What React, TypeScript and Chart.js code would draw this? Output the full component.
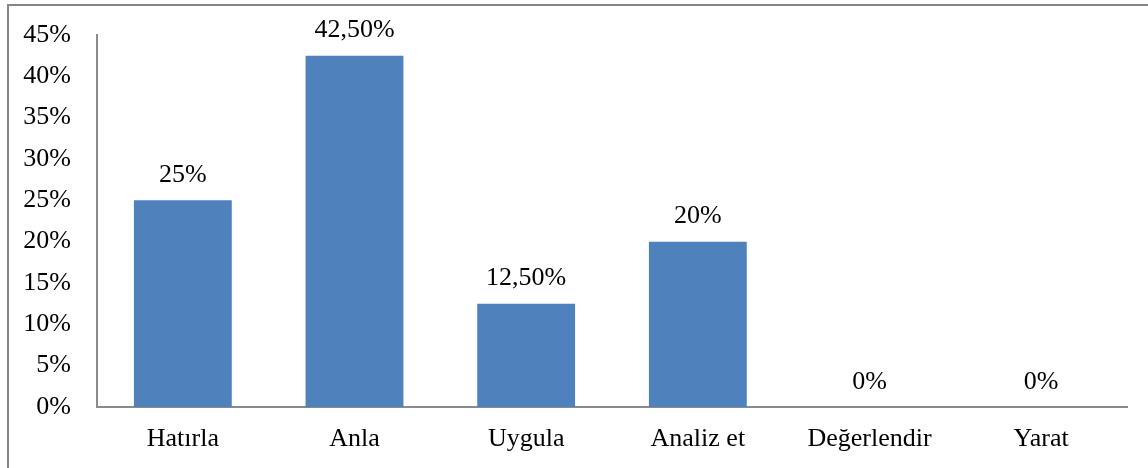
import React, { useEffect, useRef } from "react";
import { Chart, registerables } from "chart.js";

Chart.register(...registerables);

const categories = ["Hatırla", "Anla", "Uygula", "Analiz et", "Değerlendir", "Yarat"];
const values = [25, 42.5, 12.5, 20, 0, 0];
const valueLabels = ["25%", "42,50%", "12,50%", "20%", "0%", "0%"];
const yTicks = [0, 5, 10, 15, 20, 25, 30, 35, 40, 45];

const FONT = "'Liberation Serif', 'Times New Roman', serif";

const dataLabelPlugin = {
  id: "dataLabels",
  afterDatasetsDraw(chart: any) {
    const ctx = chart.ctx;
    const meta = chart.getDatasetMeta(0);
    ctx.save();
    ctx.font = `26px ${FONT}`;
    ctx.fillStyle = "#000000";
    ctx.textAlign = "center";
    ctx.textBaseline = "middle";
    meta.data.forEach((bar: any, i: number) => {
      ctx.fillText(valueLabels[i], bar.x, bar.y - 25);
    });
    ctx.restore();
  },
};

export default function App() {
  const ref = useRef<HTMLCanvasElement | null>(null);
  useEffect(() => {
    if (!ref.current) return;
    const chart = new Chart(ref.current, {
      type: "bar",
      data: {
        labels: categories,
        datasets: [
          {
            data: values,
            backgroundColor: "#4F81BD",
            borderWidth: 0,
            barPercentage: 0.57,
            categoryPercentage: 1,
          },
        ],
      },
      options: {
        animation: false,
        responsive: true,
        maintainAspectRatio: false,
        layout: { padding: { left: 0, right: 21, top: 35, bottom: 0 } },
        plugins: { legend: { display: false }, tooltip: { enabled: false } },
        scales: {
          x: {
            grid: { display: false, drawTicks: false },
            border: { display: true, color: "#8a8a8a", width: 2 },
            ticks: {
              color: "#000000",
              font: { family: FONT, size: 26 },
              padding: 17,
              maxRotation: 0,
            },
            afterFit: (scale: any) => {
              scale.height = 61;
              scale.paddingLeft = 0;
              scale.paddingRight = 0;
            },
          },
          y: {
            min: 0,
            max: 45,
            afterBuildTicks: (scale: any) => {
              scale.ticks = yTicks.map((v) => ({ value: v }));
            },
            grid: { display: false, drawTicks: false },
            border: { display: true, color: "#8a8a8a", width: 2 },
            ticks: {
              color: "#000000",
              font: { family: FONT, size: 26 },
              padding: 26,
              callback: (v: any) => `${v}%`,
            },
            afterFit: (scale: any) => {
              scale.width = 97;
              scale.paddingTop = 0;
              scale.paddingBottom = 0;
            },
          },
        },
      },
      plugins: [dataLabelPlugin],
    });
    return () => chart.destroy();
  }, []);

  return (
    <div style={{ position: "fixed", left: 0, top: 0, width: 1148, height: 468, background: "#ffffff" }}>
      <div
        style={{
          position: "absolute",
          left: 7,
          top: 4,
          width: 1200,
          height: 500,
          borderTop: "2px solid #868686",
          borderLeft: "2px solid #868686",
        }}
      />
      <canvas ref={ref} />
    </div>
  );
}
